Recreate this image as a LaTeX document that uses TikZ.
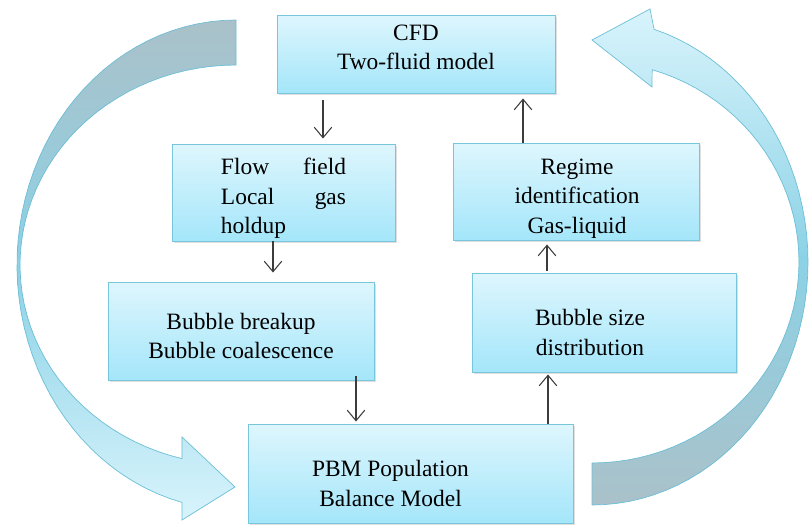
\documentclass[tikz,border=0pt]{standalone}
\usepackage{fontspec}
\setmainfont{Liberation Serif}
\usetikzlibrary{arrows.meta,calc,shadows}

\definecolor{boxtop}{RGB}{222,246,253}
\definecolor{boxbot}{RGB}{164,230,250}
\definecolor{boxline}{RGB}{120,198,220}
\definecolor{linkgray}{RGB}{60,60,60}
\definecolor{bandgray}{RGB}{170,193,201}
\definecolor{bandmid}{RGB}{140,210,230}
\definecolor{bandlight}{RGB}{216,244,252}
\definecolor{bandline}{RGB}{108,190,214}

\tikzset{
	stage/.style={draw=boxline, line width=0.8pt, top color=boxtop, bottom color=boxbot, drop shadow={opacity=0.25, shadow xshift=1.5pt, shadow yshift=-1.5pt}},
	stagetext/.style={align=center, inner sep=0pt, font=\fontsize{20}{25}\selectfont},
	link/.style={draw=linkgray, line width=0.9pt, -{Straight Barb[length=9pt,width=15pt]}},
	loopband/.style={draw=bandline, line width=0.6pt}
}

\newcommand{\stagebox}[8]{
	\pgfmathsetmacro{\SBxa}{#2}
	\pgfmathsetmacro{\SBya}{#3}
	\pgfmathsetmacro{\SBxb}{#4}
	\pgfmathsetmacro{\SByb}{#5}
	\pgfmathsetmacro{\SBw}{0.03*(\SBxb-\SBxa)}
	\pgfmathsetmacro{\SBh}{0.03*(\SByb-\SBya)}
	\node[stage, minimum width=\SBw cm, minimum height=\SBh cm] (#1) at ({(\SBxa+\SBxb)/2}, {(\SBya+\SByb)/2}) {};
	\node[stagetext] (#1text) at ($(#1.center)+(#6,#7)$) {#8};
}

\begin{document}
\begin{tikzpicture}[x=0.03cm, y=-0.03cm]
\useasboundingbox (0,0) rectangle (809,527);

\path[loopband, top color=bandgray, bottom color=bandlight, middle color=bandmid]
	plot[domain=90:255.7, samples=50, variable=\t] ({236+219*cos(\t)}, {265-245*sin(\t)})
	-- (182,520) -- (235,487) -- (182,437)
	-- plot[domain=255.5:90, samples=50, variable=\t] ({236+216*cos(\t)}, {265-200*sin(\t)})
	-- cycle;

\path[loopband, top color=bandlight, bottom color=bandgray, middle color=bandmid]
	plot[domain=-90:73.3, samples=50, variable=\t] ({592+216*cos(\t)}, {262-243*sin(\t)})
	-- (650,9) -- (592,40) -- (652,87)
	-- plot[domain=73.1:-90, samples=50, variable=\t] ({592+207*cos(\t)}, {262-201*sin(\t)})
	-- cycle;

\stagebox{cfd}{277}{15}{555}{93}{0}{-7}{CFD\\Two-fluid model}
\stagebox{flow}{172}{144}{395}{241}{0}{6}{\parbox{3.75cm}{Flow\hfill field\\Local\hfill gas\\holdup}}
\stagebox{regime}{453}{143}{699}{240}{1}{7}{Regime\\identification\\Gas-liquid}
\stagebox{breakup}{108}{282}{374}{380}{0}{5}{Bubble breakup\\Bubble coalescence}
\stagebox{size}{472}{273}{736}{372}{-14}{10}{Bubble size\\distribution}
\stagebox{pbm}{248}{424}{573}{523}{-20}{10}{PBM Population\\Balance Model}

\draw[link] ($(flow.north |- cfd.south)+(39.5,7)$) -- ($(flow.north)+(39.5,-5)$);
\draw[link] ($(flow.south)+(-10.5,0)$) -- ($(flow.south |- breakup.north)+(-10.5,-9)$);
\draw[link] ($(breakup.south)+(115,-4)$) -- ($(breakup.south |- pbm.north)+(115,-2)$);
\draw[link] ($(pbm.north)+(137.5,0)$) -- ($(pbm.north |- size.south)+(137.5,2)$);
\draw[link] ($(size.north)+(-57,-2)$) -- ($(size.north |- regime.south)+(-57,4)$);
\draw[link] ($(regime.north)+(-53,0)$) -- ($(regime.north |- cfd.south)+(-53,5)$);
\end{tikzpicture}
\end{document}
